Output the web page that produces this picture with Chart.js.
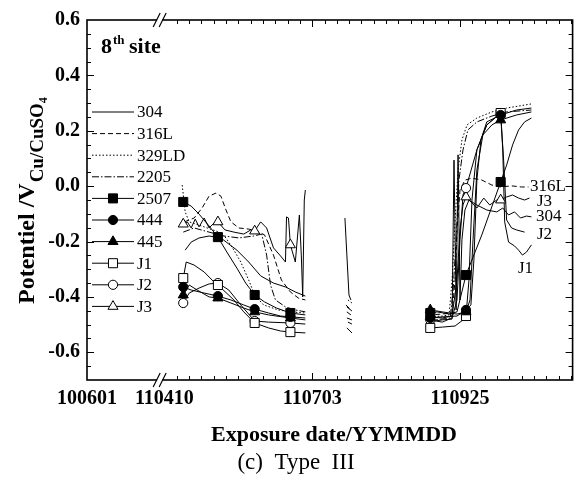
<!DOCTYPE html>
<html>
<head>
<meta charset="utf-8">
<script src="https://cdn.jsdelivr.net/npm/chart.js@4.4.0/dist/chart.umd.min.js"></script>
<style>
  html, body { margin: 0; padding: 0; background: #fff; }
</style>
</head>
<body>
<canvas id="potChart" width="580" height="482"></canvas>
<script>
// x = days since 110410, y = potential (V vs Cu/CuSO4); [x, null] breaks a trace
const alloys = ['304', '316L', '329LD', '2205', '2507', '444', '445', 'J1', 'J2', 'J3'];
const xTickDays = [-44, 0, 84, 168];
const xTickLabels = ['100601', '110410', '110703', '110925'];
const yTicks = [-0.6, -0.4, -0.2, 0.0, 0.2, 0.4, 0.6];
const markerDays = [10.7, 30.4, 51.3, 71.6, 151.1, 171.4, 191.1];

const p304 = [
  [11.8, -0.231], [15.2, -0.202], [19.7, -0.187], [25.4, -0.180], [32.1, -0.187], [36.6, -0.209],
  [41.2, -0.231], [47.9, -0.274], [54.7, -0.324], [62.0, -0.350], [68.8, -0.364], [74.4, -0.382], [80.1, -0.397],
  [90, null],
  [102.6, -0.115], [103.7, -0.249], [104.9, -0.393], [106.0, -0.411],
  [130, null],
  [149.4, -0.491], [157.9, -0.483], [163.5, -0.480], [164.6, 0.094], [165.8, -0.447], [166.9, 0.113], [168.0, -0.411],
  [169.1, -0.194], [170.8, -0.086], [173.1, -0.050], [177.6, -0.068], [183.2, -0.086], [188.9, -0.093], [192.3, -0.079],
  [195.6, -0.104], [199.0, -0.093], [202.4, -0.115], [205.8, -0.108], [208.6, -0.111]
];
const p316L = [
  [11.3, -0.129], [16.9, -0.115], [21.4, -0.079], [25.4, -0.036], [29.3, -0.025], [32.1, -0.036], [35.0, -0.086],
  [37.8, -0.129], [42.3, -0.151], [47.9, -0.155], [52.4, -0.162], [56.9, -0.176], [62.0, -0.249], [66.5, -0.339],
  [71.6, -0.382], [76.1, -0.404], [80.1, -0.411],
  [90, null],
  [103.2, -0.429], [106.0, -0.447],
  [130, null],
  [149.4, -0.465], [157.9, -0.462], [163.5, -0.458], [165.2, -0.339], [166.3, -0.158], [168.0, -0.014], [170.8, 0.022],
  [174.8, 0.029], [180.4, 0.022], [186.1, 0.004], [191.1, -0.003], [197.3, 0.001], [203.0, -0.003], [206.9, -0.003]
];
const p329LD = [
  [10.1, 0.004], [11.8, -0.093], [14.1, -0.129], [22.6, -0.147], [31.0, -0.166], [35.0, -0.187], [39.5, -0.231],
  [43.4, -0.274], [47.9, -0.339], [51.3, -0.393], [56.4, -0.429], [64.8, -0.447], [71.6, -0.454], [80.1, -0.458],
  [90, null],
  [104.3, -0.411], [106.6, -0.422],
  [130, null],
  [149.4, -0.472], [157.9, -0.469], [161.8, -0.465], [163.5, -0.339], [165.2, -0.122], [166.9, 0.058], [169.1, 0.167],
  [172.0, 0.221], [177.6, 0.246], [186.1, 0.268], [194.5, 0.282], [208.6, 0.297]
];
const p2205 = [
  [10.7, -0.166], [16.9, -0.151], [25.4, -0.166], [33.8, -0.180], [42.3, -0.187], [50.7, -0.180], [55.3, -0.173],
  [58.1, -0.249], [60.3, -0.357], [63.1, -0.411], [68.8, -0.436], [74.4, -0.447], [80.1, -0.454],
  [90, null],
  [103.7, -0.454], [106.0, -0.465],
  [130, null],
  [149.4, -0.483], [157.9, -0.480], [162.4, -0.476], [164.1, -0.375], [165.8, -0.194], [167.4, 0.022], [169.7, 0.131],
  [172.5, 0.203], [177.6, 0.232], [186.1, 0.253], [194.5, 0.268], [208.6, 0.275]
];
const p2507 = [
  [10.7, -0.057], [15.2, -0.072], [19.7, -0.101], [25.4, -0.144], [30.4, -0.184], [35.5, -0.238], [41.2, -0.296],
  [46.2, -0.350], [51.3, -0.393], [56.9, -0.418], [63.7, -0.440], [71.6, -0.458], [80.1, -0.465],
  [90, null],
  [103.7, -0.436], [106.6, -0.451],
  [130, null],
  [149.4, -0.458], [155.0, -0.454], [161.8, -0.462], [166.3, -0.454], [171.4, -0.321], [180.4, -0.176], [191.1, 0.015],
  [194.5, 0.076], [197.9, 0.149], [201.3, 0.203], [204.7, 0.232], [208.6, 0.246]
];
const p444 = [
  [10.7, -0.364], [15.2, -0.375], [22.6, -0.386], [30.4, -0.397], [37.8, -0.411], [45.1, -0.429], [51.3, -0.444],
  [59.2, -0.458], [66.0, -0.469], [71.6, -0.472], [80.1, -0.476],
  [90, null],
  [103.7, -0.476], [106.6, -0.483],
  [130, null],
  [149.4, -0.476], [157.9, -0.472], [166.3, -0.469], [171.4, -0.447], [174.2, -0.429], [175.9, -0.267], [177.6, 0.022],
  [179.9, 0.167], [183.2, 0.232], [191.1, 0.257], [200.1, 0.275], [208.6, 0.282]
];
const p445 = [
  [10.7, -0.393], [14.1, -0.357], [18.6, -0.375], [25.4, -0.400], [30.4, -0.404], [37.8, -0.422], [45.1, -0.440],
  [51.3, -0.454], [59.2, -0.465], [71.6, -0.476], [80.1, -0.483],
  [90, null],
  [104.3, -0.491], [106.6, -0.498],
  [130, null],
  [151.1, -0.447], [157.9, -0.454], [166.3, -0.462], [171.4, -0.454], [173.7, -0.411], [175.4, -0.194], [177.6, 0.058],
  [181.0, 0.185], [186.1, 0.221], [191.1, 0.239], [200.1, 0.257], [208.6, 0.268]
];
const pJ1 = [
  [10.7, -0.332], [12.4, -0.274], [16.9, -0.285], [22.6, -0.310], [28.2, -0.346], [30.4, -0.357], [39.5, -0.411],
  [45.1, -0.454], [51.3, -0.494], [59.2, -0.512], [66.0, -0.523], [71.6, -0.527], [80.1, -0.530],
  [90, null],
  [103.7, -0.512], [106.6, -0.530],
  [130, null],
  [151.1, -0.512], [157.9, -0.509], [165.2, -0.505], [169.7, -0.483], [171.4, -0.469], [173.1, -0.339], [174.8, -0.050],
  [177.6, 0.131], [183.2, 0.221], [191.1, 0.264], [192.3, 0.131], [193.4, -0.129], [195.6, -0.202], [199.0, -0.216],
  [201.3, -0.231], [203.5, -0.249], [205.8, -0.238], [208.6, -0.212]
];
const pJ2 = [
  [10.7, -0.422], [14.1, -0.386], [19.7, -0.368], [25.4, -0.353], [30.4, -0.350], [36.6, -0.375], [43.4, -0.429],
  [51.3, -0.487], [59.2, -0.491], [71.6, -0.494], [80.1, -0.498],
  [130, null],
  [151.1, -0.483], [157.9, -0.491], [163.5, -0.476], [166.3, -0.411], [168.0, -0.194], [169.7, -0.032], [171.4, -0.007],
  [177.6, 0.131], [183.2, 0.221], [191.1, 0.264], [192.8, 0.094], [194.5, -0.122], [197.3, -0.151], [200.1, -0.158],
  [204.7, -0.166]
];
const pJ3 = [
  [10.7, -0.137], [13.0, -0.129], [15.2, -0.151], [17.5, -0.119], [19.7, -0.147], [22.6, -0.115], [25.4, -0.151],
  [28.2, -0.133], [30.4, -0.129], [34.4, -0.158], [39.5, -0.166], [45.1, -0.173], [49.1, -0.158], [51.3, -0.162],
  [54.7, -0.129], [58.1, -0.151], [62.0, -0.223], [66.0, -0.252], [68.8, -0.274], [69.4, -0.111], [70.5, -0.115],
  [71.6, -0.212], [74.4, -0.274], [76.7, -0.104], [77.8, -0.249], [78.6, -0.400], [79.5, -0.050], [80.1, -0.014],
  [130, null],
  [151.1, -0.472], [157.9, -0.476], [163.5, -0.469], [166.3, -0.339], [168.0, -0.158], [169.7, -0.068], [171.4, -0.039],
  [174.8, -0.061], [177.6, -0.079], [181.5, -0.043], [184.9, -0.068], [188.9, -0.050], [191.1, -0.050], [194.5, -0.039],
  [197.9, -0.032], [201.3, -0.043], [204.7, -0.050], [207.5, -0.043]
];

// periodic readings shown with symbols, one value per markerDays entry
const m2507 = [-0.057, -0.184, -0.393, -0.458, -0.458, -0.321, 0.015];
const m444 = [-0.364, -0.397, -0.444, -0.472, -0.476, -0.447, 0.257];
const m445 = [-0.393, -0.404, -0.454, -0.476, -0.447, -0.454, 0.239];
const mJ1 = [-0.332, -0.357, -0.494, -0.527, -0.512, -0.469, 0.264];
const mJ2 = [-0.422, -0.350, -0.487, -0.494, -0.483, -0.007, 0.264];
const mJ3 = [-0.137, -0.129, -0.162, -0.212, -0.472, -0.039, -0.050];

const traces = { '304': p304, '316L': p316L, '329LD': p329LD, '2205': p2205, '2507': p2507,
  '444': p444, '445': p445, 'J1': pJ1, 'J2': pJ2, 'J3': pJ3 };
const marks = { '2507': m2507, '444': m444, '445': m445, 'J1': mJ1, 'J2': mJ2, 'J3': mJ3 };

const styles = {
  '304':   { dash: [] },
  '316L':  { dash: [5, 3] },
  '329LD': { dash: [1.5, 2] },
  '2205':  { dash: [7, 2, 1.5, 2] },
  '2507':  { dash: [], point: 'rect', r: 6.4, fill: '#000' },
  '444':   { dash: [], point: 'circle', r: 4.6, fill: '#000' },
  '445':   { dash: [], point: 'triangle', r: 5.8, fill: '#000' },
  'J1':    { dash: [], point: 'rect', r: 6.4, fill: '#fff' },
  'J2':    { dash: [], point: 'circle', r: 4.6, fill: '#fff' },
  'J3':    { dash: [], point: 'triangle', r: 5.8, fill: '#fff' }
};

const SERIF = '"Liberation Serif", "Times New Roman", serif';

const datasets = [];
alloys.forEach(name => {
  const st = styles[name];
  datasets.push({
    label: name, data: traces[name], borderColor: '#000', borderWidth: 1,
    borderDash: st.dash, pointRadius: 0, tension: 0, order: 2
  });
  if (marks[name]) {
    datasets.push({
      label: name + ' readings', data: markerDays.map((d, i) => [d, marks[name][i]]),
      showLine: false, pointStyle: st.point, pointRadius: st.r, pointBorderWidth: 1,
      pointBorderColor: '#000', pointBackgroundColor: st.fill, order: 1
    });
  }
});

function seg(ctx, x1, y1, x2, y2) {
  ctx.beginPath(); ctx.moveTo(x1, y1); ctx.lineTo(x2, y2); ctx.stroke();
}

function symbol(ctx, kind, r, fill, x, y) {
  ctx.beginPath();
  if (kind === 'rect') {
    const s = r * Math.SQRT1_2;
    ctx.rect(x - s, y - s, 2 * s, 2 * s);
  } else if (kind === 'circle') {
    ctx.arc(x, y, r, 0, Math.PI * 2);
  } else {
    ctx.moveTo(x, y - r);
    ctx.lineTo(x + r * Math.sin(Math.PI * 2 / 3), y + r * 0.5);
    ctx.lineTo(x - r * Math.sin(Math.PI * 2 / 3), y + r * 0.5);
    ctx.closePath();
  }
  ctx.fillStyle = fill; ctx.fill();
  ctx.lineWidth = 1; ctx.strokeStyle = '#000'; ctx.stroke();
}

// frame with inward ticks and axis breaks
const framePlugin = {
  id: 'frame',
  afterDatasetsDraw(chart) {
    const { ctx, chartArea: a, scales: { x, y } } = chart;
    ctx.save();
    ctx.strokeStyle = '#000';
    ctx.setLineDash([]);
    ctx.lineWidth = 1;
    for (let k = 1; k < 26; k++) {
      const v = -0.7 + k * 0.05;
      const py = Math.round(y.getPixelForValue(v)) + 0.5;
      const major = (k - 2) % 4 === 0;
      const len = major ? 7 : 4;
      seg(ctx, a.left, py, a.left + len, py);
      seg(ctx, a.right, py, a.right - len, py);
    }
    for (let d = 7; d <= 231; d += 7) {
      const px = Math.round(x.getPixelForValue(d)) + 0.5;
      const len = d % 84 === 0 ? 7 : 4;
      seg(ctx, px, a.bottom, px, a.bottom - len);
      seg(ctx, px, a.top, px, a.top + len);
    }
    ctx.lineWidth = 1.6;
    ctx.strokeRect(a.left, a.top, a.right - a.left, a.bottom - a.top);
    // axis break marks
    const bx = x.getPixelForValue(-3);
    [a.top, a.bottom].forEach(yy => {
      ctx.fillStyle = '#fff';
      ctx.fillRect(bx - 2, yy - 2, 5, 4);
      ctx.lineWidth = 1.2;
      seg(ctx, bx - 6, yy + 7, bx + 1, yy - 7);
      seg(ctx, bx, yy + 7, bx + 7, yy - 7);
    });
    ctx.restore();
  }
};

const textPlugin = {
  id: 'texts',
  afterDraw(chart) {
    const ctx = chart.ctx;
    ctx.save();
    ctx.fillStyle = '#000';
    ctx.textBaseline = 'middle';
    // legend inside the plot
    alloys.forEach((name, i) => {
      const st = styles[name];
      const yy = 112 + i * 21.6;
      ctx.strokeStyle = '#000'; ctx.lineWidth = 1; ctx.setLineDash(st.dash);
      seg(ctx, 92, yy, 134, yy);
      ctx.setLineDash([]);
      if (st.point) symbol(ctx, st.point, st.r, st.fill, 113, yy);
      ctx.fillStyle = '#000';
      ctx.font = '17px ' + SERIF;
      ctx.textAlign = 'left';
      ctx.fillText(name, 137, yy + 1);
    });
    // end labels
    ctx.font = '17px ' + SERIF;
    ctx.fillText('316L', 530, 187);
    ctx.fillText('J3', 537, 202);
    ctx.fillText('304', 536, 217);
    ctx.fillText('J2', 537, 235);
    ctx.fillText('J1', 518, 269);
    // site tag
    ctx.textBaseline = 'alphabetic';
    ctx.font = 'bold 22px ' + SERIF;
    ctx.fillText('8', 101, 53);
    ctx.font = 'bold 13px ' + SERIF;
    ctx.fillText('th', 113, 44);
    ctx.font = 'bold 22px ' + SERIF;
    ctx.fillText('site', 129, 53);
    // x title and caption
    ctx.textAlign = 'center';
    ctx.font = 'bold 22px ' + SERIF;
    ctx.fillText('Exposure date/YYMMDD', 334, 441);
    ctx.font = '23px ' + SERIF;
    ctx.fillText('(c)  Type  III', 296, 469);
    // y title, rotated
    ctx.translate(34, 304);
    ctx.rotate(-Math.PI / 2);
    ctx.textAlign = 'left';
    ctx.font = 'bold 24px ' + SERIF;
    const main = 'Potentiel /V';
    ctx.fillText(main, 0, 0);
    let w = ctx.measureText(main).width + 1;
    ctx.font = 'bold 19px ' + SERIF;
    ctx.fillText('Cu/CuSO', w, 9);
    w += ctx.measureText('Cu/CuSO').width;
    ctx.font = 'bold 12px ' + SERIF;
    ctx.fillText('4', w, 13);
    ctx.restore();
  }
};

new Chart(document.getElementById('potChart'), {
  type: 'line',
  data: { datasets },
  options: {
    responsive: false,
    animation: false,
    events: [],
    layout: { padding: { top: 20, right: 3, left: 0, bottom: 0 } },
    plugins: { legend: { display: false }, tooltip: { enabled: false } },
    scales: {
      x: {
        type: 'linear', min: -44, max: 232,
        grid: { display: false, drawTicks: false },
        border: { display: false },
        afterBuildTicks: s => { s.ticks = xTickDays.map(v => ({ value: v })); },
        afterFit: s => { s.height = 102; },
        ticks: {
          padding: 7, color: '#000', maxRotation: 0, autoSkip: false,
          font: { family: SERIF, size: 20, weight: 'bold' },
          callback: v => { const i = xTickDays.indexOf(v); return i >= 0 ? xTickLabels[i] : ''; }
        }
      },
      y: {
        min: -0.7, max: 0.6,
        grid: { display: false, drawTicks: false },
        border: { display: false },
        afterBuildTicks: s => { s.ticks = yTicks.map(v => ({ value: v })); },
        afterFit: s => { s.width = 87; },
        ticks: {
          padding: 7, color: '#000',
          font: { family: SERIF, size: 20, weight: 'bold' },
          callback: v => v.toFixed(1)
        }
      }
    }
  },
  plugins: [framePlugin, textPlugin]
});
</script>
</body>
</html>
